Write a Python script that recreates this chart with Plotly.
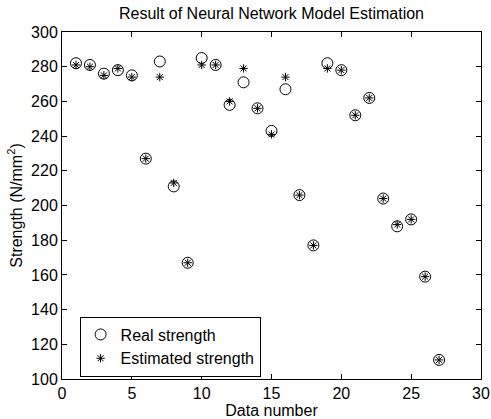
import plotly.graph_objects as go

data_number = list(range(1, 28))
real_strength = [282, 281, 276, 278, 275, 227, 283, 211, 167, 285, 281, 258, 271, 256, 243, 267,
                 206, 177, 282, 278, 252, 262, 204, 188, 192, 159, 111]
estimated_strength = [281, 280, 275, 279, 274, 227, 274, 213, 167, 281, 281, 260, 279, 256, 241, 274,
                      206, 177, 279, 278, 252, 262, 204, 189, 192, 159, 111]

FONT = "Liberation Sans, Arial"

fig = go.Figure()
fig.add_trace(go.Scatter(x=data_number, y=real_strength, mode="markers", name="Real strength",
                         marker=dict(symbol="circle-open", size=11, color="black", line=dict(width=1))))
fig.add_trace(go.Scatter(x=data_number, y=estimated_strength, mode="markers", name="Estimated strength",
                         marker=dict(symbol="asterisk-open", size=7, color="black", line=dict(width=1))))

axis_common = dict(showline=True, linecolor="black", linewidth=1, mirror="ticks", ticks="inside",
                   ticklen=5, tickcolor="black", showgrid=False, zeroline=False, automargin=False,
                   tickfont=dict(family=FONT, size=16, color="black"))
fig.update_xaxes(range=[0, 30], dtick=5, title=dict(text="Data number", standoff=2,
                 font=dict(family=FONT, size=16, color="black")), **axis_common)
fig.update_yaxes(range=[100, 300], dtick=20, title=dict(text="Strength (N/mm<sup>2</sup>)", standoff=4,
                 font=dict(family=FONT, size=16, color="black")), **axis_common)

fig.update_layout(
    width=491, height=419,
    margin=dict(l=62, r=10, t=32, b=40),
    paper_bgcolor="white", plot_bgcolor="white",
    title=dict(text="Result of Neural Network Model Estimation", x=0.553, xanchor="center",
               yref="container", y=1 - 13 / 419, yanchor="middle",
               font=dict(family=FONT, size=16, color="black")),
    legend=dict(x=0.042, y=0.18, xanchor="left", yanchor="top", bordercolor="black", borderwidth=1,
                bgcolor="white", font=dict(family=FONT, size=16, color="black"),
                itemwidth=30, tracegroupgap=0),
    showlegend=True,
)
fig.write_html("out.html", config={"displayModeBar": False},
               post_script="document.body.style.margin='0';document.body.style.overflow='hidden';")
